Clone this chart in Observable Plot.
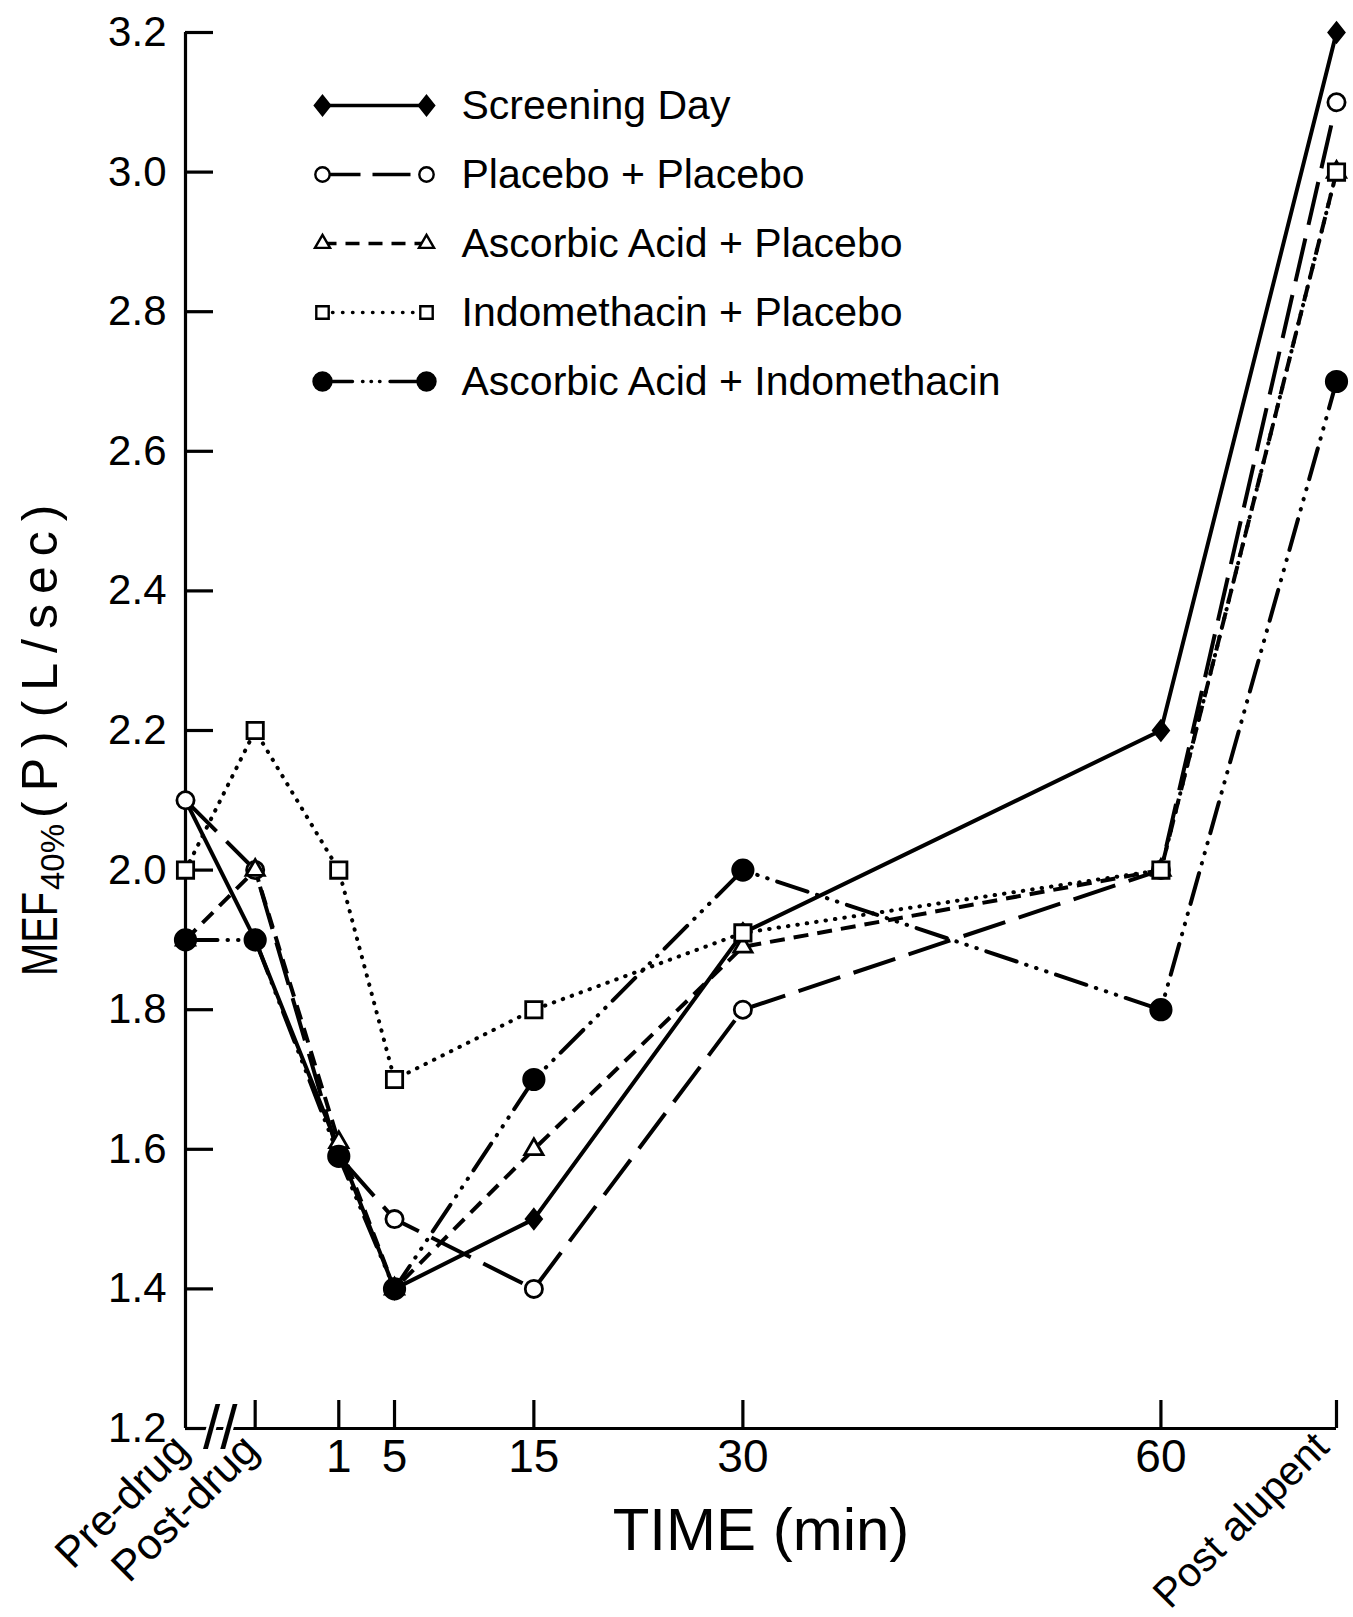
<!DOCTYPE html>
<html><head><meta charset="utf-8">
<script src="https://cdn.jsdelivr.net/npm/d3@7"></script>
<script src="https://cdn.jsdelivr.net/npm/@observablehq/plot@0.6"></script>
<style>
html,body{margin:0;padding:0;background:#fff;}
#wrap{position:relative;width:1353px;height:1617px;overflow:hidden;}
#legend{position:absolute;left:300px;top:84px;}
</style></head><body><div id="wrap"><div id="legend"></div></div>
<script>
// ---- data ----
const timeLabels = ["Pre-drug", "Post-drug", "1", "5", "15", "30", "60", "Post alupent"];
const timePos = [-10, -5, 1, 5, 15, 30, 60, 72.6];
const seriesNames = ["Screening Day", "Placebo + Placebo", "Ascorbic Acid + Placebo", "Indomethacin + Placebo", "Ascorbic Acid + Indomethacin"];
const screeningDay    = [2.1, 1.9, 1.6, 1.4, 1.5, 1.91, 2.2, 3.2];
const placeboPlacebo  = [2.1, 2.0, 1.59, 1.5, 1.4, 1.8, 2.0, 3.1];
const ascorbicPlacebo = [1.9, 2.0, 1.61, 1.4, 1.6, 1.89, 2.0, 3.0];
const indoPlacebo     = [2.0, 2.2, 2.0, 1.7, 1.8, 1.91, 2.0, 3.0];
const ascorbicIndo    = [1.9, 1.9, 1.59, 1.4, 1.7, 2.0, 1.8, 2.7];
const yTicks = [1.2, 1.4, 1.6, 1.8, 2.0, 2.2, 2.4, 2.6, 2.8, 3.0, 3.2];
const yLabel = ["MEF", "40%", "(P)", "(L/sec)"];
const xLabel = "TIME (min)";

// ---- styles ----
const seriesValues = [screeningDay, placeboPlacebo, ascorbicPlacebo, indoPlacebo, ascorbicIndo];
const diamond = {draw(ctx, size) { const h = Math.sqrt(size / 1.6), w = h * 0.8; ctx.moveTo(0, -h); ctx.lineTo(w, 0); ctx.lineTo(0, h); ctx.lineTo(-w, 0); ctx.closePath(); }};
const styles = [
  {symbol: diamond, fill: "black", r: 6.8, lr: 6.8, dash: null, cap: "butt", ldash: null},
  {symbol: "circle", fill: "white", r: 8.6, lr: 7.2, dash: "44,14", cap: "butt", ldash: "38,12"},
  {symbol: "triangle", fill: "white", r: 6.8, lr: 5.6, dash: "15,9", cap: "butt", ldash: "14,9"},
  {symbol: "square", fill: "white", r: 9.2, lr: 7, dash: "0.5,9", cap: "round", ldash: "0.5,9.5"},
  {symbol: "circle", fill: "black", r: 10.2, lr: 9, dash: "32,10,0.5,10,0.5,10,0.5,10", cap: "round", ldash: "30,10,0.5,8,0.5,8,0.5,10"}
];

const rows = seriesNames.flatMap((s, i) => timePos.map((t, j) => ({series: s, time: t, value: seriesValues[i][j]})));

const W = 1353, H = 1617, mL = 185, mR = 17, mT = 32, mB = 189;
const frameW = W - mL - mR, frameH = H - mT - mB;
const font = "'Liberation Sans', Arial, sans-serif";

const numericIdx = [2, 3, 4, 5, 6];
const namedIdx = [0, 1];
const lastIdx = [7];

const lineMarks = seriesNames.map((s, i) => Plot.line(rows.filter(d => d.series === s), {
  x: "time", y: "value", stroke: "black", strokeWidth: 4,
  strokeDasharray: styles[i].dash, strokeLinecap: styles[i].cap
}));
const dotMarks = seriesNames.map((s, i) => Plot.dot(rows.filter(d => d.series === s), {
  x: "time", y: "value", symbol: styles[i].symbol, r: styles[i].r,
  fill: styles[i].fill, stroke: "black", strokeWidth: 2.8
}));

const chart = Plot.plot({
  width: W, height: H,
  marginLeft: mL, marginRight: mR, marginTop: mT, marginBottom: mB,
  x: {domain: [timePos[0], timePos[timePos.length - 1]], axis: null},
  y: {domain: [yTicks[0], yTicks[yTicks.length - 1]], axis: null},
  style: {fontFamily: font, background: "white", color: "black", overflow: "visible"},
  marks: [
    // axis lines
    Plot.ruleX([timePos[0]], {stroke: "black", strokeWidth: 3.2}),
    Plot.ruleY([yTicks[0]], {stroke: "black", strokeWidth: 3.2}),
    // inward tick marks
    Plot.tickX(timePos.slice(1), {x: d => d, insetTop: frameH - 28, stroke: "black", strokeWidth: 3.2}),
    Plot.tickY(yTicks, {y: d => d, insetRight: frameW - 28, stroke: "black", strokeWidth: 3.2}),
    // axis break
    Plot.text(["//"], {x: () => (timePos[0] + timePos[1]) / 2, frameAnchor: "bottom", fontSize: 62,
      lineAnchor: "middle", stroke: "white", strokeWidth: 5, fill: "black", paintOrder: "stroke"}),
    // y tick labels
    Plot.text(yTicks, {y: d => d, frameAnchor: "left", dx: -19, textAnchor: "end", text: d => d.toFixed(1), fontSize: 42, fill: "black"}),
    // x numeric tick labels
    Plot.text(numericIdx, {x: i => timePos[i], frameAnchor: "bottom", dy: 29, lineAnchor: "middle", text: i => timeLabels[i], fontSize: 46, fill: "black"}),
    // x named tick labels (rotated)
    Plot.text(namedIdx, {x: i => timePos[i], frameAnchor: "bottom", dx: -16, dy: 2, rotate: -45, textAnchor: "end", lineAnchor: "top", text: i => timeLabels[i], fontSize: 43, fill: "black"}),
    Plot.text(lastIdx, {x: i => timePos[i], frameAnchor: "bottom", dx: -26, dy: 0, rotate: -45, textAnchor: "end", lineAnchor: "top", text: i => timeLabels[i], fontSize: 41, fill: "black"}),
    // x axis title
    Plot.text([xLabel], {frameAnchor: "bottom", dy: 102, lineAnchor: "middle", fontSize: 60, fill: "black"}),
    ...lineMarks,
    ...dotMarks
  ]
});
chart.style.display = "block";
document.getElementById("wrap").prepend(chart);

// y axis title with subscript (rotated, reading bottom to top)
const svg = d3.select(chart);
const yt = svg.append("text")
  .attr("transform", `translate(57, 976) rotate(-90)`)
  .attr("text-anchor", "start")
  .attr("font-family", font)
  .attr("font-size", 50)
  .attr("fill", "black");
yt.append("tspan").attr("textLength", 84).attr("lengthAdjust", "spacingAndGlyphs").text(yLabel[0]);
yt.append("tspan").attr("font-size", 34).attr("dx", 2).attr("dy", 7).attr("textLength", 66).attr("lengthAdjust", "spacingAndGlyphs").text(yLabel[1]);
yt.append("tspan").attr("dx", 6).attr("dy", -7).attr("letter-spacing", 10).text(yLabel[2]);
yt.append("tspan").attr("dx", 4).attr("letter-spacing", 10).text(yLabel[3]);

// ---- legend ----
const legRows = seriesNames.flatMap((s, i) => [0, 1].map(e => ({series: s, e})));
const legend = Plot.plot({
  width: 760, height: 330, margin: 0,
  x: {domain: [0, 1], range: [22, 126], axis: null},
  y: {type: "point", domain: seriesNames, range: [20, 297], padding: 0, axis: null},
  style: {fontFamily: font, background: "transparent", color: "black", overflow: "visible"},
  marks: [
    ...seriesNames.map((s, i) => Plot.line(legRows.filter(d => d.series === s), {
      x: "e", y: "series", stroke: "black", strokeWidth: 3.4,
      strokeDasharray: styles[i].ldash, strokeLinecap: styles[i].cap
    })),
    ...seriesNames.map((s, i) => Plot.dot(legRows.filter(d => d.series === s), {
      x: "e", y: "series", symbol: styles[i].symbol, r: styles[i].lr,
      fill: styles[i].fill, stroke: "black", strokeWidth: 2.4
    })),
    Plot.text(seriesNames, {x: () => 1, y: d => d, dx: 35, textAnchor: "start", lineAnchor: "middle", fontSize: 41, fill: "black", text: d => d})
  ]
});
document.getElementById("legend").append(legend);
</script></body></html>
